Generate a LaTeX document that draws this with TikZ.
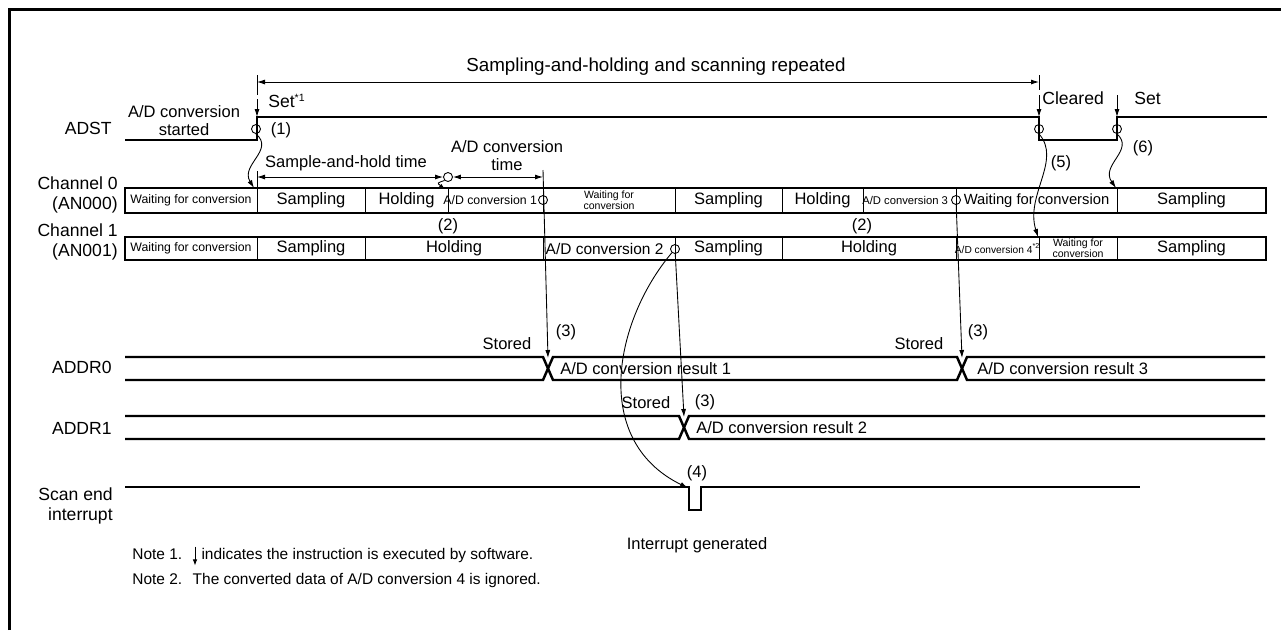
\documentclass[tikz,border=0pt]{standalone}
\usepackage{fontspec}
\setmainfont{Liberation Sans}
\usetikzlibrary{arrows.meta}

\newcommand\fmain{\fontsize{9.4}{10.2}\selectfont}
\newcommand\fsig{\fontsize{10}{11.2}\selectfont}
\newcommand\fnote{\fontsize{8.8}{10}\selectfont}
\newcommand\notearrow{\tikz[baseline]\draw[-{Latex[length=1.2mm,width=0.9mm]},line width=0.4pt] (0,1.6ex) -- (0,-0.7ex);}

\begin{document}
\begin{tikzpicture}[x=0.02cm, y=-0.02cm,
    every node/.style={inner sep=0pt, font=\fmain},
    sname/.style={anchor=east, align=right, font=\fsig},
    cell/.style={align=center},
    txn/.style={cell},
    txs/.style={cell, font=\fontsize{7}{8}\selectfont},
    txt/.style={cell, font=\fontsize{6}{6.2}\selectfont},
    txq/.style={cell, font=\fontsize{6.4}{7}\selectfont},
    txm/.style={cell, font=\fontsize{8.4}{9.5}\selectfont},
    txw/.style={cell, font=\fontsize{8.8}{10}\selectfont},
    txv/.style={cell, font=\fontsize{5.8}{7}\selectfont},
    sig/.style={line width=1.4pt},
    rowbox/.style={line width=1.2pt},
    divider/.style={line width=0.5pt},
    thinln/.style={line width=0.5pt},
    arr/.style={-{Latex[length=1.6mm,width=1mm]}, line width=0.5pt},
    dimarr/.style={{Latex[length=1.6mm,width=1mm]}-{Latex[length=1.6mm,width=1mm]}, line width=0.5pt},
    tap/.style={circle, draw, line width=0.5pt, minimum size=1.8mm}
]
\useasboundingbox (0,0) rectangle (1281,630);
\draw[line width=1.6pt] (9.5,630) -- (9.5,9.5) -- (1281,9.5);

% signal names
\node[sname] (adst) at (112,128) {ADST};
\node[sname] (ch0l) at (118,195) {Channel 0\\(AN000)};
\node[sname] (ch1l) at (118,242) {Channel 1\\(AN001)};
\node[sname] (addr0l) at (112,367) {ADDR0};
\node[sname] (addr1l) at (112,428) {ADDR1};
\node[sname] (scanl) at (113,506) {Scan end\\interrupt};

% repeat span
\node[font=\fontsize{10.7}{12}\selectfont] (rep) at (656,67) {Sampling-and-holding and scanning repeated};
\draw[thinln] (257,75) -- (257,95);
\draw[thinln] (1039,75) -- (1039,90);
\draw[dimarr] (257,82) -- (1039,82);

% ADST
\draw[sig] (125,140) -- (257,140) -- (257,117) -- (1039,117) -- (1039,140) -- (1117,140) -- (1117,117) -- (1267,117);
\node[cell] (adstart) at (184,121) {A/D conversion\\started};
\node[anchor=west, font=\fsig] (set1) at (268,101) {Set\textsuperscript{\fontsize{6}{6}\selectfont *1}};
\node[anchor=west, font=\fsig] (clr) at (1042,98) {Cleared};
\node[anchor=west, font=\fsig] (set2) at (1134,98) {Set};
\coordinate (g1) at (257,99);
\coordinate (g1e) at (257,117);
\coordinate (g5) at (1039,95);
\coordinate (g5e) at (1039,117);
\coordinate (g6) at (1117,95);
\coordinate (g6e) at (1117,117);
\draw[arr] (g1) -- (g1e);
\draw[arr] (g5) -- (g5e);
\draw[arr] (g6) -- (g6e);
\node[tap] (t1) at (256,129) {};
\node[tap] (t5) at (1039,129) {};
\node[tap] (t6) at (1117,129) {};
\node (s1) at (281,130) {(1)};
\node (s5) at (1061,163) {(5)};
\node (s6) at (1143,148) {(6)};

% channel 0
\foreach \a/\b/\s/\t [count=\i] in {
    125/257/txs/Waiting for conversion,
    257/365/txn/Sampling,
    365/448/txn/Holding,
    448/543/txs/{A/D conversion 1\hspace{6pt}},
    543/675/txt/{Waiting for\\conversion},
    675/782/txn/Sampling,
    782/863/txn/Holding,
    863/956/txq/{A/D conversion 3\hspace{5pt}},
    956/1117/txm/Waiting for conversion,
    1117/1266/txn/Sampling} {
  \draw[divider] (\a,188) -- (\a,213);
  \node[\s] (ch0-\i) at ({(\a+\b)/2},200.5) {\t};
}
\draw[rowbox] (125,188) rectangle (1266,213);

% channel 1
\foreach \a/\b/\s/\t [count=\i] in {
    125/257/txs/Waiting for conversion,
    257/365/txn/Sampling,
    365/543/txn/Holding,
    543/675/txw/{A/D conversion 2\hspace{5pt}},
    675/782/txn/Sampling,
    782/956/txn/Holding,
    956/1039/txv/{A/D conversion 4\textsuperscript{*2}},
    1039/1117/txt/{Waiting for\\conversion},
    1117/1266/txn/Sampling} {
  \draw[divider] (\a,237) -- (\a,260);
  \node[\s] (ch1-\i) at ({(\a+\b)/2},248.5) {\t};
}
\draw[rowbox] (125,237) rectangle (1266,260);

\node (p2a) at (448,226) {(2)};
\node (p2b) at (862,226) {(2)};

% sample-and-hold / conversion time
\node (shtime) at (346,163) {Sample-and-hold time};
\node[cell] (adtime) at (507,156) {A/D conversion\\time};
\node[tap] (tdim) at (448,177) {};
\draw[thinln] (257,171) -- (257,188);
\draw[dimarr] (257,177) -- (tdim.west);
\draw[dimarr] (tdim.east) -- (543,177);
\coordinate (hk) at (445,189);
\draw[-{Latex[length=1.2mm,width=0.8mm]}, line width=0.5pt] (tdim.south west) .. controls (437,183) .. (hk);

\node[tap] (tc1) at (543,200) {};
\node[tap] (tc3) at (956,200) {};
\node[tap] (tc2) at (675,249) {};

% ADST edges to channels
\coordinate (e1) at (254,188);
\coordinate (e5) at (1038,237);
\coordinate (e6) at (1116,188);
\draw[arr] (t1.south) .. controls (275,150) and (240,165) .. (e1);
\draw[arr] (t5.south) .. controls (1062,160) and (1025,195) .. (e5);
\draw[arr] (t6.south) .. controls (1135,150) and (1100,165) .. (e6);

% data registers
\draw[sig] (125,357) -- (543,357) -- (553,380) -- (957,380) -- (967,357) -- (1265,357);
\draw[sig] (125,380) -- (543,380) -- (553,357) -- (957,357) -- (967,380) -- (1265,380);
\draw[sig] (125,416) -- (679,416) -- (689,439) -- (1265,439);
\draw[sig] (125,439) -- (679,439) -- (689,416) -- (1265,416);
\draw[sig] (125,487) -- (689,487) -- (689,510) -- (701,510) -- (701,487) -- (1140,487);

\node[anchor=west] (r1) at (560,368.5) {A/D conversion result 1};
\node[anchor=west] (r3) at (977,368.5) {A/D conversion result 3};
\node[anchor=west] (r2) at (696,427.5) {A/D conversion result 2};

\node (st1) at (507,344) {Stored};
\node (st3) at (919,344) {Stored};
\node (st2) at (646,403) {Stored};
\node (q1) at (566,332) {(3)};
\node (q3) at (978,332) {(3)};
\node (q2) at (705,402) {(3)};
\node (q4) at (697,473) {(4)};

% conversion end to registers
\coordinate (tk) at (543,170);
\coordinate (x0a) at (548,358);
\coordinate (x0b) at (962,358);
\coordinate (x1a) at (684,417);
\coordinate (pl) at (688,488);
\draw[arr] (tk) -- (x0a);
\draw[arr] (tc3) -- (x0b);
\draw[arr] (tc2) -- (x1a);
\draw[arr] (tc2) .. controls (615,320) and (590,440) .. (pl);

\node (intgen) at (697,545) {Interrupt generated};

% notes
\node[anchor=west, font=\fnote] (note1) at (132,556) {Note 1.\hspace{6pt}\notearrow\ indicates the instruction is executed by software.};
\node[anchor=west, font=\fnote] (note2) at (132,580) {Note 2.\hspace{6pt}The converted data of A/D conversion 4 is ignored.};
\end{tikzpicture}
\end{document}
